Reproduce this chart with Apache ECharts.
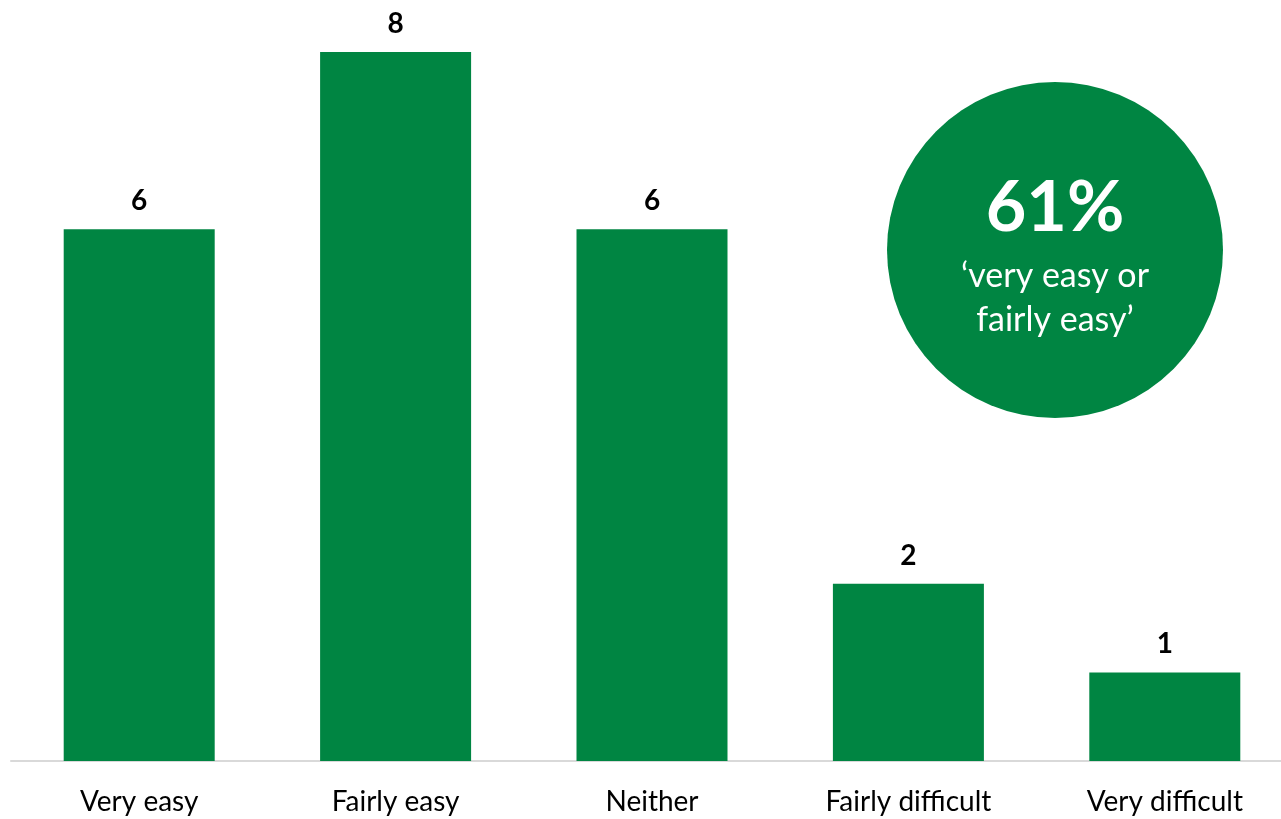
<!DOCTYPE html>
<html>
<head>
<meta charset="utf-8">
<script src="https://cdn.jsdelivr.net/npm/echarts@6/dist/echarts.min.js"></script>
<style>
  html, body { margin: 0; padding: 0; background: #fff; }
  #chart { width: 1281px; height: 819px; }
</style>
</head>
<body>
<div id="chart"></div>
<script>
// Responses by ease rating
const categories = ['Very easy', 'Fairly easy', 'Neither', 'Fairly difficult', 'Very difficult'];
const counts = [6, 8, 6, 2, 1];

// Summary bubble
const summaryValue = '61%';
const summaryLines = ['\u2018very easy or', 'fairly easy\u2019'];

const GREEN = '#008542';
const FONT = 'Lato, "Open Sans", sans-serif';

const chart = echarts.init(document.getElementById('chart'));
chart.setOption({
  animation: false,
  grid: { left: 11, width: 1282, top: 52, bottom: 58, outerBoundsMode: 'none', containLabel: false },
  xAxis: {
    type: 'category',
    data: categories,
    axisLine: { lineStyle: { color: '#d9d9d9', width: 2 } },
    axisTick: { show: false },
    axisLabel: { color: '#000', fontSize: 28, fontFamily: FONT, margin: 27 }
  },
  yAxis: {
    type: 'value',
    min: 0,
    max: 8,
    show: false,
    splitLine: { show: false }
  },
  series: [{
    type: 'bar',
    data: counts,
    barWidth: 151,
    itemStyle: { color: GREEN },
    label: {
      show: true,
      position: 'top',
      distance: 14,
      color: '#000',
      fontSize: 28,
      fontWeight: 'bold',
      fontFamily: FONT
    }
  }],
  graphic: [
    {
      type: 'circle',
      shape: { cx: 1055, cy: 250, r: 168 },
      style: { fill: GREEN },
      z: 10
    },
    {
      type: 'text',
      x: 1055, y: 208,
      style: {
        text: summaryValue,
        fill: '#fff',
        font: 'bold 70px ' + FONT,
        textAlign: 'center',
        textVerticalAlign: 'middle'
      },
      z: 11
    },
    {
      type: 'text',
      x: 1055, y: 276,
      style: {
        text: summaryLines[0],
        fill: '#fff',
        font: '34px ' + FONT,
        textAlign: 'center',
        textVerticalAlign: 'middle'
      },
      z: 11
    },
    {
      type: 'text',
      x: 1055, y: 320,
      style: {
        text: summaryLines[1],
        fill: '#fff',
        font: '34px ' + FONT,
        textAlign: 'center',
        textVerticalAlign: 'middle'
      },
      z: 11
    }
  ]
});
</script>
</body>
</html>
